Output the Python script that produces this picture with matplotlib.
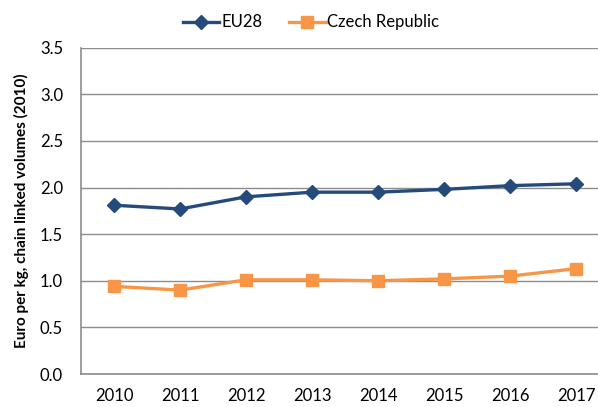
import matplotlib.pyplot as plt

years = ['2010', '2011', '2012', '2013', '2014', '2015', '2016', '2017']
eu28 = [1.81, 1.77, 1.90, 1.95, 1.95, 1.98, 2.02, 2.04]
czech = [0.94, 0.90, 1.01, 1.01, 1.00, 1.02, 1.05, 1.13]

plt.rcParams['font.family'] = ['Lato', 'DejaVu Sans']

fig = plt.figure(figsize=(5.98, 4.07), dpi=100)
# the plot area runs past the right edge of the picture, as in the reference
ax = fig.add_axes([0.1355, 0.081, 0.883, 0.802])

x = range(len(years))
ax.plot(x, eu28, color='#254B7D', lw=2.4, marker='D', ms=7, label='EU28')
ax.plot(x, czech, color='#F79646', lw=2.4, marker='s', ms=8.5, label='Czech Republic')

ax.set_xlim(-0.5, len(years) - 0.5)
ax.set_ylim(0, 3.5)
ax.set_yticks([0, 0.5, 1.0, 1.5, 2.0, 2.5, 3.0, 3.5])
ax.set_yticklabels([f'{v:.1f}' for v in ax.get_yticks()])
ax.set_xticks(list(x))
ax.set_xticklabels(years)
ax.tick_params(length=0, labelsize=12)
ax.tick_params(axis='y', pad=13)
ax.tick_params(axis='x', pad=10)

ax.grid(axis='y', color='#8C8C8C', lw=1)
ax.set_axisbelow(True)
for s in ['top', 'right']:
    ax.spines[s].set_visible(False)
for s in ['left', 'bottom']:
    ax.spines[s].set_color('#8C8C8C')
    ax.spines[s].set_linewidth(1.2)

ax.set_ylabel('Euro per kg, chain linked volumes (2010)', fontsize=11, fontweight='bold', labelpad=8)

fig.legend(loc='center', bbox_to_anchor=(0.52, 0.945), ncol=2, frameon=False,
           fontsize=12, handlelength=2.2, columnspacing=1.6, handletextpad=0.1)

fig.savefig('out.png', dpi=100)
